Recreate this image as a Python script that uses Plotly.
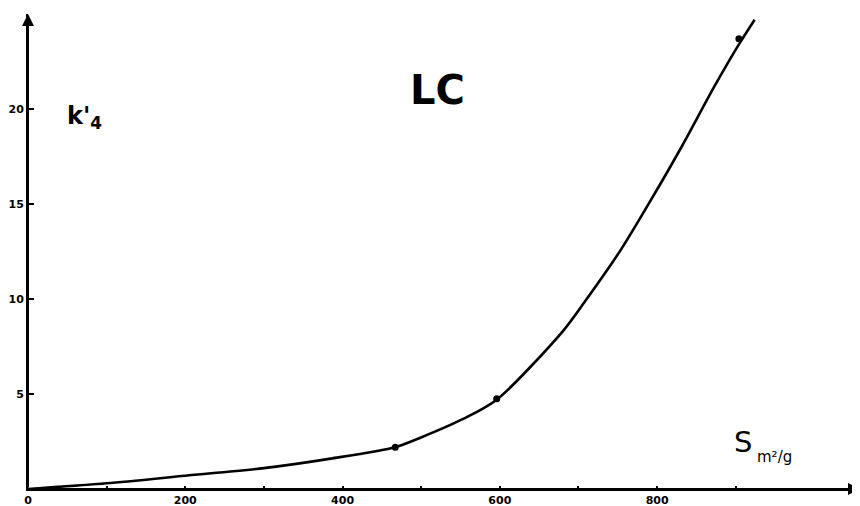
import plotly.graph_objects as go

# Hand-drawn fitted curve
curve_x = [0, 100, 200, 300, 385, 467, 499, 554, 596, 680, 707, 754, 792, 831, 873, 904, 924]
curve_y = [0, 0.3, 0.7, 1.1, 1.6, 2.2, 2.7, 3.7, 4.7, 8.3, 9.8, 12.6, 15.2, 18.0, 21.2, 23.4, 24.7]

# Measured points
point_x = [467, 596, 904]
point_y = [2.2, 4.75, 23.7]

x_tick_vals = [0, 200, 400, 600, 800]
x_tick_text = ["0", "200", "400", "600", "800"]
x_minor_vals = [100, 300, 500, 700, 900]
y_tick_vals = [5, 10, 15, 20]
y_tick_text = ["5", "10", "15", "20"]

X_MAX = 1058
Y_MAX = 25

fig = go.Figure()
fig.add_trace(go.Scatter(
    x=curve_x, y=curve_y, mode="lines",
    line=dict(color="black", width=2.6, shape="spline", smoothing=0.8),
    hoverinfo="skip", showlegend=False,
))
fig.add_trace(go.Scatter(
    x=point_x, y=point_y, mode="markers",
    marker=dict(color="black", size=7),
    showlegend=False,
))

tick_font = dict(family="DejaVu Sans", size=11, color="black", weight="bold")

fig.update_xaxes(
    range=[0, X_MAX], showgrid=False, zeroline=False, automargin=False,
    showline=True, linecolor="black", linewidth=2,
    tickmode="array", tickvals=x_tick_vals, ticktext=x_tick_text,
    ticks="inside", ticklen=3, tickwidth=1.5, tickcolor="black",
    minor=dict(tickmode="array", tickvals=x_minor_vals, ticks="inside",
               ticklen=3, tickwidth=1.5, tickcolor="black"),
    tickfont=tick_font,
)
fig.update_yaxes(
    range=[0, Y_MAX], showgrid=False, zeroline=False, automargin=False,
    showline=True, linecolor="black", linewidth=2,
    tickmode="array", tickvals=y_tick_vals, ticktext=y_tick_text,
    ticks="inside", ticklen=6, tickwidth=1.5, tickcolor="black",
    tickfont=tick_font,
)

# Axis arrows
fig.add_annotation(x=X_MAX, y=0, ax=0, ay=0, xref="x", yref="y", axref="x", ayref="y",
                   text="", showarrow=True, arrowhead=2, arrowsize=1.2, arrowwidth=2,
                   arrowcolor="black", standoff=0)
fig.add_annotation(x=0, y=Y_MAX, ax=0, ay=0, xref="x", yref="y", axref="x", ayref="y",
                   text="", showarrow=True, arrowhead=2, arrowsize=1.2, arrowwidth=2,
                   arrowcolor="black", standoff=0)

# Labels
fig.add_annotation(x=0.4916, y=0.893, xref="paper", yref="paper", text="LC",
                   showarrow=False, font=dict(family="DejaVu Sans", size=40, color="black", weight="bold"))
fig.add_annotation(x=0.0445, y=0.82, xref="paper", yref="paper", text="k'<sub>4</sub>",
                   showarrow=False, font=dict(family="DejaVu Sans", size=24, color="black", weight="bold"))
fig.add_annotation(x=0.8726, y=0.059, xref="paper", yref="paper", text="S",
                   showarrow=False, font=dict(family="DejaVu Sans", size=29, color="black"))
fig.add_annotation(x=0.921, y=0.045, xref="paper", yref="paper", text="m²/g",
                   showarrow=False, font=dict(family="DejaVu Sans", size=15, color="black"))

# The page body has an 8px margin, so the figure is sized/offset to compensate
fig.update_layout(
    width=852, height=498,
    margin=dict(l=20, r=0, t=6, b=17, autoexpand=False),
    plot_bgcolor="white", paper_bgcolor="white",
    showlegend=False,
)

fig.write_html("out.html")
